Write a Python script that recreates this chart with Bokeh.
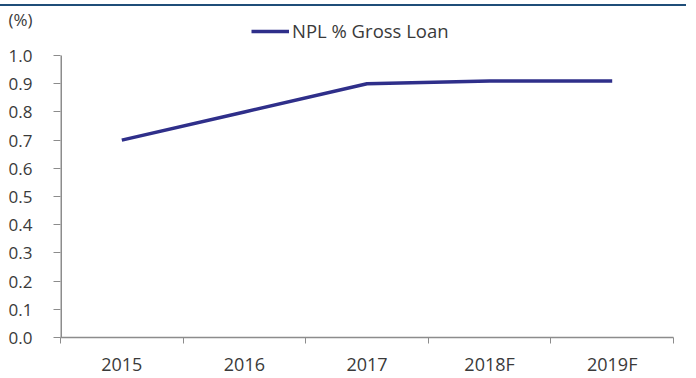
from bokeh.plotting import figure
from bokeh.models import FixedTicker, Legend, LegendItem, Range1d, Div
from bokeh.layouts import column
from bokeh.embed import file_html
from bokeh.resources import INLINE

categories = ["2015", "2016", "2017", "2018F", "2019F"]
npl_values = [0.70, 0.80, 0.90, 0.91, 0.91]
y_ticks = [0.0, 0.1, 0.2, 0.3, 0.4, 0.5, 0.6, 0.7, 0.8, 0.9, 1.0]
series_name = "NPL % Gross Loan"
unit_label = "(%)"

FONT = "Open Sans"
TXT = "#3a3a3a"
AXIS = "#8c8c8c"

x = list(range(len(categories)))
y_max = y_ticks[-1]
unit_pos = y_max + 0.128   # where the "(%)" unit label sits, above the top tick

p = figure(width=696, height=372, output_backend="svg", toolbar_location=None,
           x_range=Range1d(-0.5, len(categories) - 0.5), y_range=Range1d(0, y_max + 0.174),
           min_border_left=60, min_border_right=23, min_border_top=0, min_border_bottom=41)
p.outline_line_color = None
p.grid.grid_line_color = None
p.background_fill_color = "white"
p.border_fill_color = "white"

r = p.line(x, npl_values, line_color="#2f2f8a", line_width=3.5)

# y axis line only from 0 to the top tick
p.segment(x0=[-0.5], y0=[y_ticks[0]], x1=[-0.5], y1=[y_max], line_color=AXIS, line_width=3)

# x axis: labels at centres, ticks between categories
xa = p.xaxis[0]
xa.ticker = FixedTicker(ticks=x, minor_ticks=[i - 0.5 for i in range(len(categories) + 1)])
xa.major_label_overrides = {i: c for i, c in enumerate(categories)}
xa.major_tick_out = 0
xa.major_tick_in = 0
xa.minor_tick_out = 6
xa.minor_tick_in = 0
xa.minor_tick_line_color = AXIS
xa.axis_line_color = AXIS
xa.axis_line_width = 1.5
xa.major_label_text_font = FONT
xa.major_label_text_font_size = "18px"
xa.major_label_text_color = TXT
xa.major_label_standoff = 8

ya = p.yaxis[0]
ya.ticker = FixedTicker(ticks=y_ticks + [unit_pos], minor_ticks=y_ticks)
overrides = {t: f"{t:.1f}" for t in y_ticks}
overrides[unit_pos] = unit_label
ya.major_label_overrides = overrides
ya.major_tick_out = 0
ya.major_tick_in = 0
ya.minor_tick_out = 7
ya.minor_tick_in = 0
ya.minor_tick_line_color = AXIS
ya.axis_line_color = None
ya.major_label_text_font = FONT
ya.major_label_text_font_size = "17px"
ya.major_label_text_color = TXT
ya.major_label_standoff = 21

legend = Legend(items=[LegendItem(label=series_name, renderers=[r])],
                location=(191, 294), orientation="horizontal",
                label_text_font=FONT, label_text_font_size="18.5px",
                label_text_color=TXT, glyph_width=38, label_standoff=3,
                border_line_color=None, background_fill_alpha=0,
                padding=0, margin=0)
p.add_layout(legend, "center")

rule = Div(text="", width=686, height=2, margin=(4, 0, 0, 0),
           styles={"background-color": "#1f4e79"})

layout = column(rule, p, spacing=0)
open("out.html", "w").write(file_html(layout, INLINE))
